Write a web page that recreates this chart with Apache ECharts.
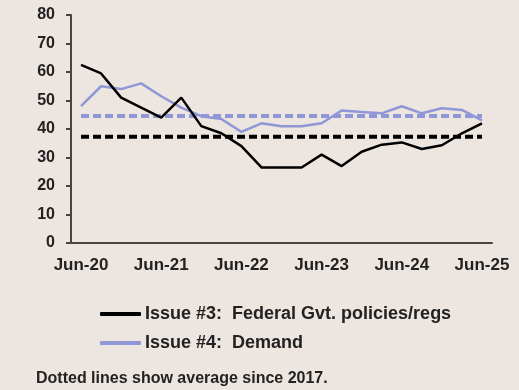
<!DOCTYPE html>
<html><head><meta charset="utf-8">
<script src="https://cdn.jsdelivr.net/npm/echarts@6/dist/echarts.min.js"></script>
<style>html,body{margin:0;padding:0;background:#ede5e0;}#c{width:519px;height:390px;}</style>
</head><body><div id="c"></div>
<script>
const categories = ["Jun-20","Sep-20","Dec-20","Mar-21","Jun-21","Sep-21","Dec-21","Mar-22","Jun-22","Sep-22","Dec-22","Mar-23","Jun-23","Sep-23","Dec-23","Mar-24","Jun-24","Sep-24","Dec-24","Mar-25","Jun-25"];
const issue3 = [62.5,59.5,51,47.5,44,51,41,38.5,34,26.5,26.5,26.5,31,27,32,34.5,35.3,33,34.3,38.5,42];
const issue4 = [48,55,54,56,51.5,47.5,44.5,43.5,39,42,41,41,42,46.5,46,45.5,48,45.5,47.3,46.7,43];
const avg3 = 37.3;
const avg4 = 44.6;
const yTicks = [0,10,20,30,40,50,60,70,80];
const name3 = "Issue #3:  Federal Gvt. policies/regs";
const name4 = "Issue #4:  Demand";
const note = "Dotted lines show average since 2017.";

const FONT = "Liberation Sans";
const BLUE = '#8f97d6';
const chart = echarts.init(document.getElementById('c'), null, {renderer:'canvas'});
chart.setOption({
  backgroundColor:'#ede5e0',
  animation:false,
  textStyle:{fontFamily:FONT},
  grid:{left:71,right:27,top:15,bottom:147},
  legend:{
    data:[
      {name:name3,icon:'roundRect',itemStyle:{color:'#000'}},
      {name:name4,icon:'roundRect',itemStyle:{color:BLUE}}
    ],
    orient:'vertical', left:95, top:300,
    itemWidth:41, itemHeight:4, itemGap:11,
    textStyle:{fontFamily:FONT,fontSize:18,fontWeight:'bold',color:'#222',padding:[0,0,0,-1]}
  },
  graphic:[{type:'text',left:36,top:371,style:{text:note,font:'bold 16px "Liberation Sans"',fill:'#222'}}],
  xAxis:{
    type:'category', data:categories, boundaryGap:true,
    axisLine:{lineStyle:{color:'#444',width:2}},
    axisTick:{interval:3,length:5,lineStyle:{color:'#444',width:2}},
    axisLabel:{interval:3,margin:14,fontSize:17,fontWeight:'bold',color:'#222',fontFamily:FONT}
  },
  yAxis:{
    type:'value', min:0, max:80, interval:10,
    splitLine:{show:false},
    axisLine:{show:true,lineStyle:{color:'#444',width:2}},
    axisTick:{show:true,length:5,lineStyle:{color:'#444',width:2}},
    axisLabel:{margin:16,fontSize:16,fontWeight:'bold',color:'#222',fontFamily:FONT}
  },
  series:[
    {name:'avg3',type:'line',data:categories.map(()=>avg3),symbol:'none',lineStyle:{color:'#000',width:4,type:[8,4]},z:1},
    {name:'avg4',type:'line',data:categories.map(()=>avg4),symbol:'none',lineStyle:{color:BLUE,width:4,type:[8,4]},z:1},
    {name:name3,type:'line',data:issue3,symbol:'none',color:'#000',lineStyle:{color:'#000',width:2.5},z:3},
    {name:name4,type:'line',data:issue4,symbol:'none',color:BLUE,lineStyle:{color:BLUE,width:2.5},z:2}
  ]
});
</script></body></html>
